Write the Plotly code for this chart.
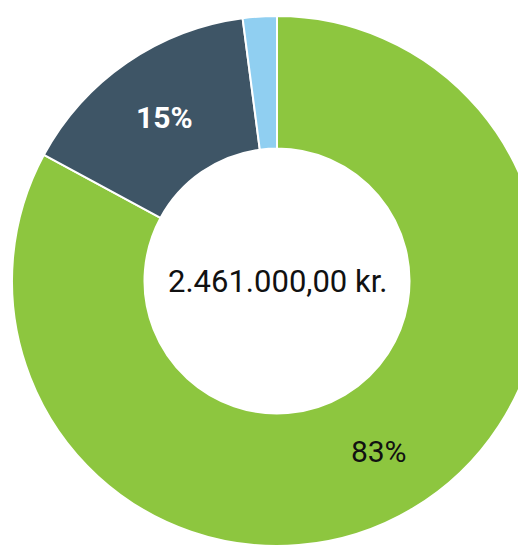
import plotly.graph_objects as go

labels = ["Andel A", "Andel B", "Andel C"]
values = [2040000, 370000, 51000]
colors = ["#8DC63F", "#3E5566", "#90CFF1"]
center_text = "2.461.000,00 kr."

W, H = 554, 556
cx, cy, r = 277, 281, 265

fig = go.Figure(go.Pie(
    labels=labels,
    values=values,
    hole=0.5,
    sort=False,
    direction="clockwise",
    rotation=0,
    marker=dict(colors=colors, line=dict(color="white", width=2)),
    texttemplate=["%{percent:.0%}", "<b>%{percent:.0%}</b>", ""],
    textposition="inside",
    insidetextorientation="horizontal",
    insidetextfont=dict(family="Roboto", size=30, color=["#111111", "#FFFFFF", "#111111"]),
    showlegend=False,
    hoverinfo="label+value+percent",
    domain=dict(x=[(cx - r) / W, (cx + r) / W], y=[(H - cy - r) / H, (H - cy + r) / H]),
))

fig.add_annotation(
    x=cx / W, y=(H - cy) / H, xref="paper", yref="paper",
    text=center_text, showarrow=False,
    font=dict(family="Roboto", size=31, color="#111111"),
)

fig.update_layout(
    width=W, height=H,
    margin=dict(l=0, r=0, t=0, b=0),
    paper_bgcolor="white",
    plot_bgcolor="white",
)

fig.write_html(
    "out.html",
    config={"displayModeBar": False},
    post_script="document.body.style.margin='0';document.body.style.overflow='hidden';",
)
